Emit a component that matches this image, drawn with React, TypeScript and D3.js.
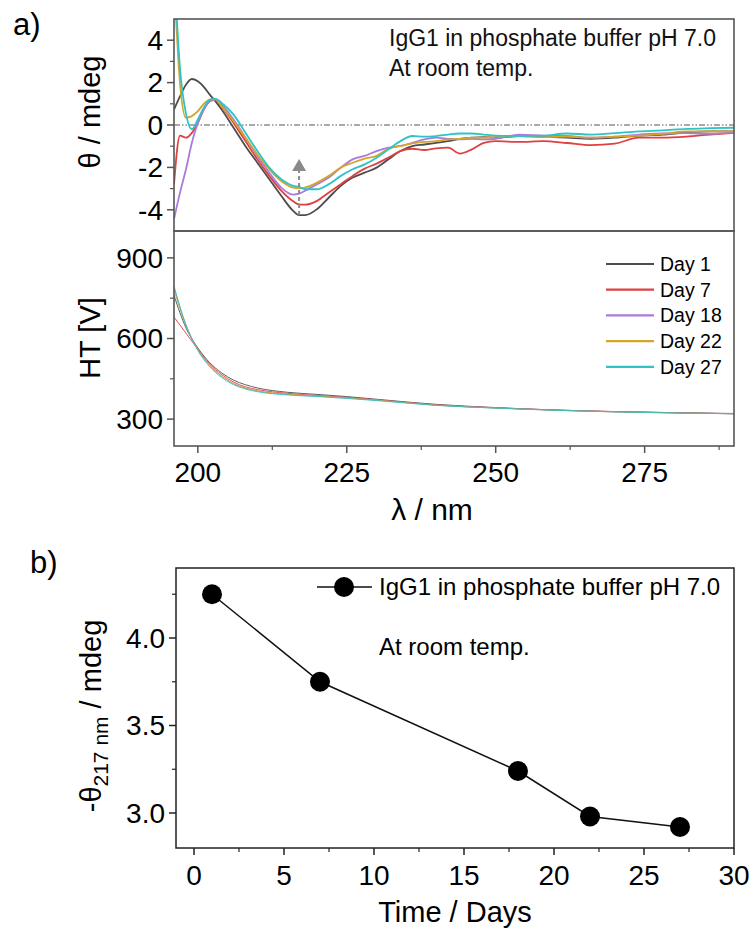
import * as d3 from 'd3';

// CD spectra (panel a, top)
const wavelengths = [196, 197, 198, 199, 200, 201, 202, 203, 204, 206, 208, 210, 212, 214, 216, 217, 218, 220, 222, 224, 226, 228, 230, 232, 234, 236, 238, 240, 242, 244, 246, 248, 250, 254, 258, 262, 266, 270, 274, 278, 282, 286, 290];
const cdDay1 = [0.73, 1.35, 1.9, 2.17, 2.06, 1.8, 1.43, 1.1, 0.73, -0.13, -1.0, -1.78, -2.56, -3.34, -4.05, -4.25, -4.25, -3.97, -3.42, -2.87, -2.48, -2.25, -2.01, -1.62, -1.23, -1.0, -0.92, -0.84, -0.76, -0.65, -0.6, -0.57, -0.6, -0.52, -0.55, -0.6, -0.65, -0.6, -0.5, -0.45, -0.35, -0.3, -0.3];
const cdDay7 = [-2.8, -0.5, -0.6, -0.37, 0.1, 0.73, 1.12, 1.2, 0.88, 0.1, -0.76, -1.62, -2.4, -3.1, -3.6, -3.75, -3.76, -3.58, -3.18, -2.79, -2.4, -2.06, -1.82, -1.54, -1.23, -1.12, -1.18, -1.1, -1.07, -1.35, -1.15, -0.84, -0.76, -0.8, -0.76, -0.85, -0.95, -0.88, -0.6, -0.6, -0.55, -0.45, -0.37];
const cdDay18 = [-4.44, -3.2, -2.1, -0.84, 0.1, 0.73, 1.12, 1.2, 0.96, 0.26, -0.6, -1.46, -2.25, -2.95, -3.28, -3.24, -3.1, -2.79, -2.48, -2.01, -1.62, -1.46, -1.23, -1.07, -0.99, -0.84, -0.68, -0.6, -0.65, -0.68, -0.65, -0.68, -0.65, -0.45, -0.5, -0.52, -0.6, -0.55, -0.45, -0.4, -0.38, -0.42, -0.35];
const cdDay22 = [7.0, 2.0, 0.35, 0.42, 0.65, 1.0, 1.2, 1.22, 0.88, 0.18, -0.6, -1.39, -2.09, -2.64, -2.95, -2.98, -2.95, -2.72, -2.4, -2.01, -1.78, -1.59, -1.46, -1.12, -0.99, -0.87, -0.8, -0.76, -0.68, -0.65, -0.6, -0.6, -0.56, -0.52, -0.57, -0.55, -0.6, -0.55, -0.5, -0.42, -0.3, -0.3, -0.3];
const cdDay27 = [7.5, 2.7, 0.55, -0.2, 0.26, 0.81, 1.2, 1.23, 1.04, 0.49, -0.37, -1.23, -2.01, -2.56, -2.87, -2.92, -3.03, -3.03, -2.79, -2.4, -2.09, -1.86, -1.54, -1.15, -0.76, -0.52, -0.55, -0.52, -0.45, -0.4, -0.4, -0.45, -0.5, -0.52, -0.5, -0.4, -0.45, -0.38, -0.3, -0.25, -0.18, -0.15, -0.13];

// HT voltage (panel a, bottom)
const htWavelengths = [196, 198, 200, 202, 204, 206, 208, 210, 215, 220, 225, 230, 240, 250, 260, 270, 280, 290];
const htDay1 = [760, 640, 565, 510, 472, 445, 428, 416, 400, 392, 384, 374, 355, 343, 334, 328, 324, 321];
const htDay7 = [680, 620, 560, 505, 466, 438, 420, 410, 396, 388, 381, 372, 353, 342, 334, 328, 324, 320];
const htDay18 = [790, 652, 560, 500, 460, 432, 415, 405, 392, 386, 379, 371, 352, 342, 333, 327, 323, 320];
const htDay22 = [780, 648, 558, 500, 460, 432, 415, 405, 393, 386, 379, 371, 352, 341, 333, 327, 323, 320];
const htDay27 = [795, 650, 555, 495, 455, 428, 412, 402, 390, 384, 377, 369, 351, 341, 333, 327, 323, 320];

const dayNames = ['Day 1', 'Day 7', 'Day 18', 'Day 22', 'Day 27'];
const dayColors = ['#4d4d4d', '#e04040', '#a97bdb', '#d4a52a', '#2ec4c6'];
const cdSeries = [cdDay1, cdDay7, cdDay18, cdDay22, cdDay27];
const htSeries = [htDay1, htDay7, htDay18, htDay22, htDay27];

// panel b
const timeDays = [1, 7, 18, 22, 27];
const theta217 = [4.25, 3.75, 3.24, 2.98, 2.92];

const cdTicks = [-4, -2, 0, 2, 4];
const cdMinor = [-3, -1, 1, 3];
const htTicks = [300, 600, 900];
const htMinor = [450, 750];
const wlTicks = [200, 225, 250, 275];
const wlMinor = [212.5, 237.5, 262.5, 287.5];
const timeTicks = [0, 5, 10, 15, 20, 25, 30];
const timeMinor = [2.5, 7.5, 12.5, 17.5, 22.5, 27.5];
const thetaTicks = [3.0, 3.5, 4.0];
const thetaMinor = [3.25, 3.75, 4.25];

const arrowWl = 217;
const arrowFrom = -4.25;
const arrowTo = -1.6;

const FONT = "'Liberation Sans', Arial, sans-serif";
const AXIS = '#555';

export default function App() {
  const x = d3.scaleLinear().domain([196, 290]).range([174, 734]);
  const yCd = d3.scaleLinear().domain([-5, 5]).range([231, 19]);
  const yHt = d3.scaleLinear().domain([200, 1000]).range([446, 231]);
  const xT = d3.scaleLinear().domain([-1, 30]).range([176, 734]);
  const yT = d3.scaleLinear().domain([2.8, 4.4]).range([848, 568]);

  const cdLine = d3.line<number>()
    .x((_, i) => x(wavelengths[i]))
    .y((d) => yCd(d))
    .curve(d3.curveMonotoneX);
  const htLine = d3.line<number>()
    .x((_, i) => x(htWavelengths[i]))
    .y((d) => yHt(d))
    .curve(d3.curveMonotoneX);
  const tLine = d3.line<number>()
    .x((_, i) => xT(timeDays[i]))
    .y((d) => yT(d));

  const [x0, x1] = x.range();
  const ax = x(arrowWl);

  return (
    <div style={{ position: 'absolute', left: 0, top: 0 }}>
      <svg width={753} height={940} style={{ display: 'block', background: '#fff' }} fontFamily={FONT}>
        <defs>
          <clipPath id="clipCd"><rect x={x0} y={19} width={x1 - x0} height={212} /></clipPath>
          <clipPath id="clipHt"><rect x={x0} y={231} width={x1 - x0} height={215} /></clipPath>
        </defs>

        <text x={13} y={35} fontSize={31}>a)</text>
        <text x={30} y={573} fontSize={31}>b)</text>

        {/* CD panel */}
        <line x1={x0} x2={x1} y1={yCd(0)} y2={yCd(0)} stroke="#555" strokeWidth={1} strokeDasharray="6,2,1.5,2,1.5,2" />
        <g clipPath="url(#clipCd)">
          {cdSeries.map((s, i) => (
            <path key={i} d={cdLine(s) ?? ''} fill="none" stroke={dayColors[i]} strokeWidth={1.8} />
          ))}
        </g>
        <line x1={ax} x2={ax} y1={yCd(arrowFrom)} y2={yCd(arrowTo) + 12} stroke="#8a8a8a" strokeWidth={2} strokeDasharray="4,3" />
        <path d={`M${ax},${yCd(arrowTo)} L${ax - 7},${yCd(arrowTo) + 12} L${ax + 7},${yCd(arrowTo) + 12} Z`} fill="#8a8a8a" />
        <text x={389} y={46} fontSize={23} fill="#111">IgG1 in phosphate buffer pH 7.0</text>
        <text x={389} y={76} fontSize={23} fill="#111">At room temp.</text>
        <rect x={x0} y={19} width={x1 - x0} height={212} fill="none" stroke={AXIS} strokeWidth={1.6} />
        {cdTicks.map((t) => (
          <g key={t}>
            <line x1={x0 - 7} x2={x0} y1={yCd(t)} y2={yCd(t)} stroke={AXIS} strokeWidth={1.5} />
            <text x={x0 - 11} y={yCd(t)} dy="0.35em" textAnchor="end" fontSize={28}>{t}</text>
          </g>
        ))}
        {cdMinor.map((t) => (
          <line key={t} x1={x0 - 4} x2={x0} y1={yCd(t)} y2={yCd(t)} stroke={AXIS} strokeWidth={1.2} />
        ))}
        <text transform={`translate(100,${yCd(0) - 13}) rotate(-90)`} textAnchor="middle" fontSize={29}>θ / mdeg</text>

        {/* HT panel */}
        <g clipPath="url(#clipHt)">
          {htSeries.map((s, i) => (
            <path key={i} d={htLine(s) ?? ''} fill="none" stroke={dayColors[i]} strokeWidth={0.9} />
          ))}
        </g>
        <rect x={x0} y={231} width={x1 - x0} height={215} fill="none" stroke={AXIS} strokeWidth={1.6} />
        {htTicks.map((t) => (
          <g key={t}>
            <line x1={x0 - 7} x2={x0} y1={yHt(t)} y2={yHt(t)} stroke={AXIS} strokeWidth={1.5} />
            <text x={x0 - 11} y={yHt(t)} dy="0.35em" textAnchor="end" fontSize={28}>{t}</text>
          </g>
        ))}
        {htMinor.map((t) => (
          <line key={t} x1={x0 - 4} x2={x0} y1={yHt(t)} y2={yHt(t)} stroke={AXIS} strokeWidth={1.2} />
        ))}
        <text transform={`translate(100,338) rotate(-90)`} textAnchor="middle" fontSize={29}>HT [V]</text>
        {dayNames.map((n, i) => (
          <g key={n} transform={`translate(606,${264 + i * 25.7})`}>
            <line x1={0} x2={48} y1={0} y2={0} stroke={dayColors[i]} strokeWidth={2.2} />
            <text x={54} y={0} dy="0.35em" fontSize={19.5}>{n}</text>
          </g>
        ))}
        {wlTicks.map((t) => (
          <g key={t}>
            <line x1={x(t)} x2={x(t)} y1={446} y2={453} stroke={AXIS} strokeWidth={1.5} />
            <text x={x(t)} y={482} textAnchor="middle" fontSize={28}>{t}</text>
          </g>
        ))}
        {wlMinor.map((t) => (
          <line key={t} x1={x(t)} x2={x(t)} y1={446} y2={450} stroke={AXIS} strokeWidth={1.2} />
        ))}
        <text x={432} y={520} textAnchor="middle" fontSize={30}>λ / nm</text>

        {/* panel b */}
        <rect x={176} y={568} width={558} height={280} fill="none" stroke="#222" strokeWidth={1.5} />
        <path d={tLine(theta217) ?? ''} fill="none" stroke="#111" strokeWidth={1.5} />
        {theta217.map((v, i) => (
          <circle key={i} cx={xT(timeDays[i])} cy={yT(v)} r={10} fill="#000" />
        ))}
        {thetaTicks.map((t) => (
          <g key={t}>
            <line x1={169} x2={176} y1={yT(t)} y2={yT(t)} stroke="#222" strokeWidth={1.5} />
            <text x={165} y={yT(t)} dy="0.35em" textAnchor="end" fontSize={28}>{d3.format('.1f')(t)}</text>
          </g>
        ))}
        {thetaMinor.map((t) => (
          <line key={t} x1={172} x2={176} y1={yT(t)} y2={yT(t)} stroke="#222" strokeWidth={1.2} />
        ))}
        {timeTicks.map((t) => (
          <g key={t}>
            <line x1={xT(t)} x2={xT(t)} y1={848} y2={855} stroke="#222" strokeWidth={1.5} />
            <text x={xT(t)} y={885} textAnchor="middle" fontSize={28}>{t}</text>
          </g>
        ))}
        {timeMinor.map((t) => (
          <line key={t} x1={xT(t)} x2={xT(t)} y1={848} y2={852} stroke="#222" strokeWidth={1.2} />
        ))}
        <text x={455} y={922} textAnchor="middle" fontSize={29}>Time / Days</text>
        <text transform="translate(101,716) rotate(-90)" textAnchor="middle" fontSize={29}>
          -θ<tspan dy={7} fontSize={21}>217 nm</tspan><tspan dy={-7}> / mdeg</tspan>
        </text>
        <line x1={317} x2={372} y1={587} y2={587} stroke="#111" strokeWidth={1.5} />
        <circle cx={344} cy={587} r={10} fill="#000" />
        <text x={379} y={595} fontSize={24}>IgG1 in phosphate buffer pH 7.0</text>
        <text x={379} y={655} fontSize={24}>At room temp.</text>
      </svg>
    </div>
  );
}
